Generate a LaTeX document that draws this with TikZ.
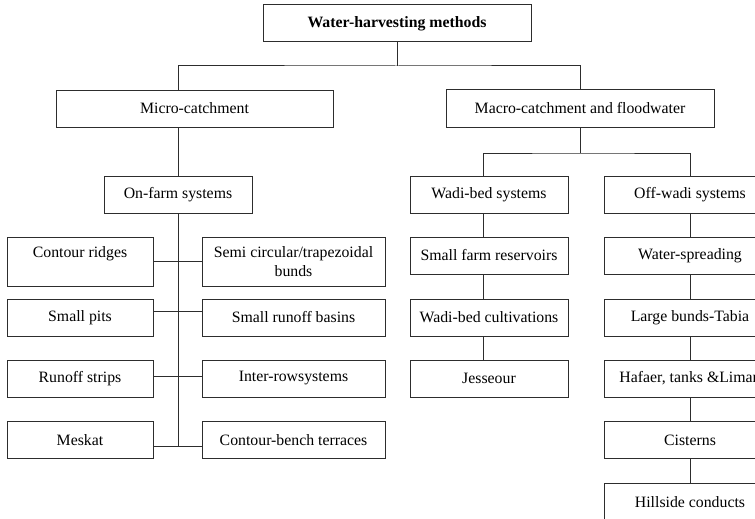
\documentclass[tikz,border=0pt]{standalone}
\usepackage{fontspec}
\setmainfont{Liberation Serif}
\usepackage{tikz}
\definecolor{wire}{RGB}{45,45,45}
\tikzset{
  box/.style={draw=wire, line width=1pt, minimum height=37pt, inner sep=2pt,
    align=center, font=\fontsize{15.8}{19}\selectfont},
  link/.style={draw=wire, line width=1pt}
}

\begin{document}
\begin{tikzpicture}[x=1pt,y=-1pt]
\useasboundingbox (0,0) rectangle (755,519);
\clip (0,0) rectangle (755,519);
% top levels
\node[box, minimum width=268pt] (water) at (397,23.5) {\textbf{Water-harvesting methods}};
\node[box, minimum width=277pt] (micro) at (194.5,108.5) {Micro-catchment};
\node[box, minimum width=268pt, minimum height=38pt] (macro) at (580,108) {Macro-catchment and floodwater};
\node[box, minimum width=148pt] (onfarm) at (178,194.5) {On-farm systems};
\node[box, minimum width=158pt] (wadi) at (489,194.5) {Wadi-bed systems};
\node[box, minimum width=172pt] (offwadi) at (690,194.5) {Off-wadi systems};
% on-farm systems
\node[box, minimum width=146pt, minimum height=49pt] (ridges) at (80,261.5) {Contour ridges\\\mbox{}};
\node[box, minimum width=183pt, minimum height=49pt] (semi) at (293.5,261.5) {Semi circular/trapezoidal\\bunds};
\node[box, minimum width=146pt] (pits) at (80,317.5) {Small pits};
\node[box, minimum width=183pt] (basins) at (293.5,317.5) {Small runoff basins};
\node[box, minimum width=146pt] (strips) at (80,378.5) {Runoff strips};
\node[box, minimum width=183pt] (interrow) at (293.5,378.5) {Inter-rowsystems};
\node[box, minimum width=146pt] (meskat) at (80,440) {Meskat};
\node[box, minimum width=183pt] (bench) at (293.5,440) {Contour-bench terraces};
% wadi-bed systems
\node[box, minimum width=158pt] (farmres) at (489,255.5) {Small farm reservoirs};
\node[box, minimum width=158pt] (cultiv) at (489,317.5) {Wadi-bed cultivations};
\node[box, minimum width=158pt] (jesseour) at (489,378.5) {Jesseour};
% off-wadi systems
\node[box, minimum width=172pt] (spread) at (690,255.5) {Water-spreading};
\node[box, minimum width=172pt] (bunds) at (690,317.5) {Large bunds-Tabia};
\node[box, minimum width=172pt] (hafaer) at (690,378.5) {Hafaer, tanks \&Liman};
\node[box, minimum width=172pt] (cisterns) at (690,440) {Cisterns};
\node[box, minimum width=172pt] (hillside) at (690,502) {Hillside conducts};
% connectors
\coordinate (split) at (397,66);
\coordinate (macrosplit) at (580,153);
\coordinate (wadiline) at (483,153);
\coordinate (trunkend) at (178,446);
\draw[link] (water.south) -- (split);
\draw[link] (micro.north -| onfarm) |- (split) -| (macro.north);
\draw[link] (micro.south -| onfarm) -- (onfarm.north);
\draw[link] (onfarm.south) -- (trunkend);
\draw[link] (ridges.east) -- (semi.west);
\draw[link] ([yshift=6pt]pits.east) -- ([yshift=6pt]basins.west);
\draw[link] ([yshift=2pt]strips.east) -- ([yshift=2pt]interrow.west);
\draw[link] ([yshift=-6pt]meskat.east) -- ([yshift=-6pt]bench.west);
\draw[link] (macro.south) -- (macrosplit);
\draw[link] (wadi.north -| wadiline) |- (macrosplit) -| (offwadi.north);
\foreach \a/\b in {wadi/farmres,farmres/cultiv,cultiv/jesseour}{
  \draw[link] (\a.south -| wadiline) -- (\b.north -| wadiline);
}
\foreach \a/\b in {offwadi/spread,spread/bunds,bunds/hafaer,hafaer/cisterns,cisterns/hillside}{
  \draw[link] (\a.south) -- (\b.north);
}
\end{tikzpicture}
\end{document}
